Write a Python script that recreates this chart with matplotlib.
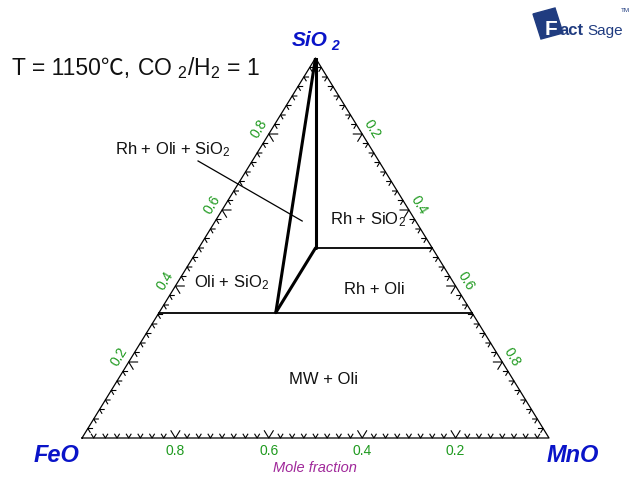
import numpy as np
import matplotlib
matplotlib.use("Agg")
import matplotlib.pyplot as plt
from matplotlib.patches import Polygon

plt.rcParams["font.family"] = ["Liberation Sans", "DejaVu Sans"]
plt.rcParams["mathtext.fontset"] = "custom"
plt.rcParams["mathtext.rm"] = "Liberation Sans"
plt.rcParams["mathtext.it"] = "Liberation Sans:italic"
plt.rcParams["mathtext.bf"] = "Liberation Sans:bold"

# ---- data (mole fractions: FeO, MnO, SiO2) ----
components = ["FeO", "MnO", "SiO2"]
apex_sio2 = (0.0, 0.0, 1.0)
rhodonite = (0.25, 0.25, 0.50)          # Rh corner of the three-phase triangle
olivine = (0.42, 0.25, 0.33)            # Oli corner of the three-phase triangle
oli_line_sio2 = 0.33                    # Oli + MW / Oli + Rh boundary
rh_line_sio2 = 0.50                     # Rh + SiO2 / Rh + Oli boundary
tick_step = 0.025
major_ticks = [0.2, 0.4, 0.6, 0.8]
bottom_labels = ["0.8", "0.6", "0.4", "0.2"]
left_labels = ["0.2", "0.4", "0.6", "0.8"]
right_labels = ["0.2", "0.4", "0.6", "0.8"]
region_labels = ["Rh + Oli + SiO$_2$", "Rh + SiO$_2$", "Oli + SiO$_2$",
                 "Rh + Oli", "MW + Oli"]
# region label anchor compositions (FeO, MnO, SiO2)
region_pos = [(0.58, -0.185, 0.76), (0.11, 0.325, 0.575), (0.48, 0.115, 0.41),
              (0.18, 0.43, 0.39), (0.40, 0.44, 0.155)]
# leader from the three-phase label into its field
leader_start = (0.387, -0.116, 0.729)
leader_end = (0.243, 0.186, 0.571)

W, H = 637, 480
fig = plt.figure(figsize=(W / 100, H / 100), dpi=100)

# triangle axes: x = MnO + SiO2/2, y = SiO2
x0, x1, ybase, ytop = 82, 549, 438, 58
ax = fig.add_axes([x0 / W, 1 - ybase / H, (x1 - x0) / W, (ybase - ytop) / H])
ax.set_xlim(0, 1)
ax.set_ylim(0, 1)
ax.axis("off")

# overlay in pixel units for free-standing text and the logo
ov = fig.add_axes([0, 0, 1, 1], zorder=-1)
ov.set_xlim(0, W)
ov.set_ylim(H, 0)
ov.axis("off")


def cart(c):
    fe, mn, si = c
    return mn + 0.5 * si, si


# outline
tri = np.array([cart((1, 0, 0)), cart((0, 1, 0)), cart((0, 0, 1)), cart((1, 0, 0))])
ax.plot(tri[:, 0], tri[:, 1], color="black", lw=0.9, clip_on=False)

# ticks
n = int(round(1 / tick_step))
for i in range(1, n):
    t = i * tick_step
    major = any(abs(t - m) < 1e-9 for m in major_ticks)
    L = 0.019 if major else 0.010
    lw = 0.8
    # bottom edge (MnO = t, SiO2 = 0)
    bx, by = cart((1 - t, t, 0))
    ax.plot([bx - 0.5 * L, bx, bx + 0.5 * L], [L, by, L], color="black", lw=lw, clip_on=False)
    # left edge (SiO2 = t, MnO = 0)
    lx, ly = cart((1 - t, 0, t))
    ax.plot([lx + L, lx, lx + 0.5 * L], [ly, ly, ly - L], color="black", lw=lw, clip_on=False)
    # right edge (MnO = t, FeO = 0)
    rx, ry = cart((0, t, 1 - t))
    ax.plot([rx - L, rx, rx - 0.5 * L], [ry, ry, ry - L], color="black", lw=lw, clip_on=False)

green = "#1f9a1f"
ang = np.degrees(np.arctan2(380, 233.5))
for m, lab in zip(major_ticks, bottom_labels):
    ax.annotate(lab, cart((1 - m, m, 0)), xytext=(0, -13), textcoords="offset pixels",
                ha="center", va="center", color=green, fontsize=10)
for s, lab in zip(major_ticks, left_labels):
    ax.annotate(lab, cart((1 - s, 0, s)), xytext=(-10, 5), textcoords="offset pixels",
                ha="center", va="center", color=green, fontsize=10,
                rotation=ang, rotation_mode="anchor")
for m, lab in zip(major_ticks, right_labels):
    ax.annotate(lab, cart((0, m, 1 - m)), xytext=(10, 5), textcoords="offset pixels",
                ha="center", va="center", color=green, fontsize=10,
                rotation=-ang, rotation_mode="anchor")

# phase boundaries
thick = dict(color="black", lw=2.2, solid_capstyle="round", solid_joinstyle="round")
for a, b in [(apex_sio2, rhodonite), (rhodonite, olivine), (olivine, apex_sio2)]:
    p, q = cart(a), cart(b)
    ax.plot([p[0], q[0]], [p[1], q[1]], **thick)

thin = dict(color="black", lw=1.3)
s = oli_line_sio2
p, q = cart((1 - s, 0, s)), cart((0, 1 - s, s))
ax.plot([p[0], q[0]], [p[1], q[1]], **thin)
s = rh_line_sio2
p, q = cart(rhodonite), cart((0, 1 - s, s))
ax.plot([p[0], q[0]], [p[1], q[1]], **thin)

# region labels
for lab, pos in zip(region_labels, region_pos):
    ax.text(*cart(pos), lab, ha="center", va="center", fontsize=12, color="#111111",
            clip_on=False)

p, q = cart(leader_start), cart(leader_end)
ax.plot([p[0], q[0]], [p[1], q[1]], color="black", lw=0.9, clip_on=False)

# corner labels
blue = "#0a14c8"
ov.text(57, 455, "FeO", ha="center", va="center", color=blue, fontsize=17,
        fontweight="bold", fontstyle="italic")
ov.text(573, 455, "MnO", ha="center", va="center", color=blue, fontsize=17,
        fontweight="bold", fontstyle="italic")
ov.text(310, 40, "SiO", ha="center", va="center", color=blue, fontsize=15,
        fontweight="bold", fontstyle="italic")
ov.text(335, 46, "2", ha="center", va="center", color=blue, fontsize=10,
        fontweight="bold", fontstyle="italic")
ov.text(315, 468, "Mole fraction", ha="center", va="center", color="#a0289a",
        fontsize=10.5, fontstyle="italic")

# condition text (temperature part kept out of mathtext so the degree sign can fall back)
ov.text(12, 75, "T = 1150\u2103,", ha="left", va="baseline",
        fontsize=16.5, color="#111111",
        family=["Liberation Sans", "Noto Sans CJK SC", "DejaVu Sans"])
ov.text(137, 75, "CO $_2$/H$_2$ = 1", ha="left", va="baseline",
        fontsize=16.5, color="#111111")

# FactSage logo
navy = "#203c80"
ov.add_patch(Polygon([(533, 14), (555, 8), (563, 33), (541, 39)], closed=True,
                     facecolor=navy, edgecolor=navy))
ov.text(551, 35, "F", ha="center", va="baseline", color="white", fontsize=15,
        fontweight="bold")
ov.text(559, 35, "act", ha="left", va="baseline", color=navy, fontsize=12,
        fontweight="bold")
ov.text(587, 35, "Sage", ha="left", va="baseline", color=navy, fontsize=11)
ov.text(621, 12, "TM", ha="left", va="baseline", color=navy, fontsize=4.5)

fig.savefig("out.png", dpi=100)
